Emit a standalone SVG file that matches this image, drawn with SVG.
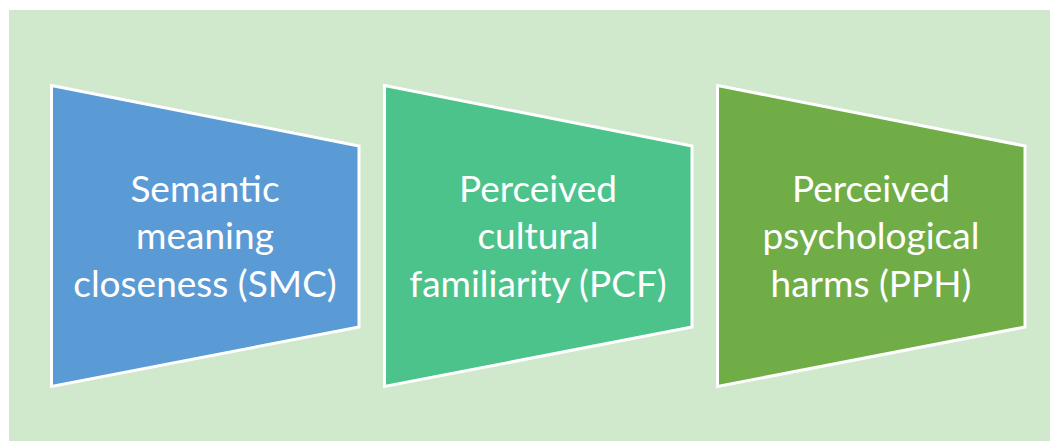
<svg xmlns="http://www.w3.org/2000/svg" width="1050" height="441" viewBox="0 0 1050 441">
  <style>
    .stage { stroke: #ffffff; stroke-width: 3; stroke-linejoin: miter; }
    .label { font-family: Lato, "Open Sans", "Liberation Sans", sans-serif; font-size: 37px; fill: #ffffff; text-anchor: middle; }
  </style>
  <rect x="0" y="0" width="1050" height="441" fill="#ffffff"/>
  <rect x="9" y="10" width="1041" height="431" fill="#d0e8cc"/>

  <g id="connectors"></g>

  <g id="smc">
    <polygon class="stage" fill="#5b9bd5" points="51.5,85.5 359,146 359,327 51.5,386.5"/>
    <text class="label" x="205" y="202">Semantic</text>
    <text class="label" x="205" y="249">meaning</text>
    <text class="label" x="205" y="297">closeness (SMC)</text>
  </g>

  <g id="pcf">
    <polygon class="stage" fill="#4cc38b" points="384.5,85.5 692,146 692,327 384.5,386.5"/>
    <text class="label" x="538" y="202">Perceived</text>
    <text class="label" x="538" y="249">cultural</text>
    <text class="label" x="538" y="297">familiarity (PCF)</text>
  </g>

  <g id="pph">
    <polygon class="stage" fill="#70ad47" points="717.5,85.5 1025,146 1025,327 717.5,386.5"/>
    <text class="label" x="871" y="202">Perceived</text>
    <text class="label" x="871" y="249">psychological</text>
    <text class="label" x="871" y="297">harms (PPH)</text>
  </g>
</svg>
